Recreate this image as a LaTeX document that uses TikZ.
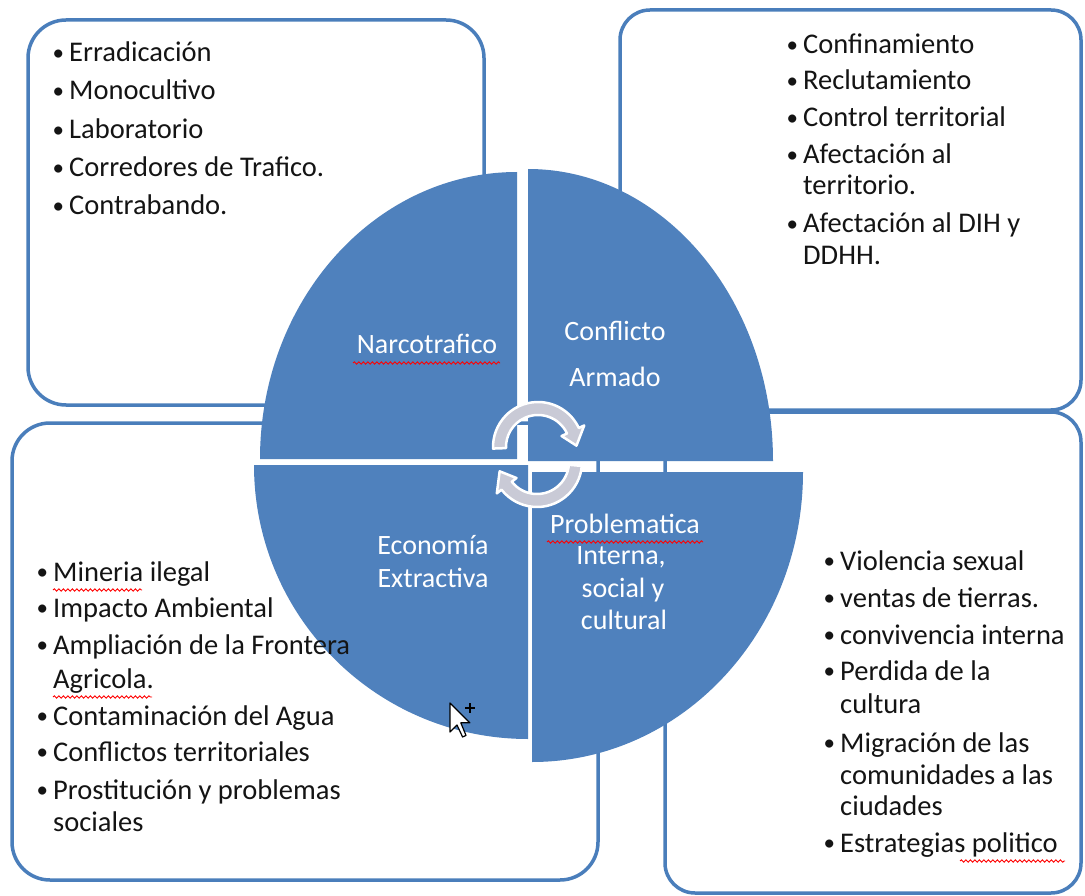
\documentclass[tikz,border=0pt]{standalone}
\usepackage{fontspec}
\setmainfont{Carlito}
\usetikzlibrary{decorations.pathmorphing}
\definecolor{accent}{HTML}{4F81BD}
\definecolor{boxline}{HTML}{4A7EBB}
\definecolor{arrowfill}{HTML}{C9CAD6}
\definecolor{txt}{HTML}{141414}
\newcommand\bul{\makebox[18pt][l]{\hspace{1.5pt}\raisebox{1.2pt}{\fontsize{23}{23}\selectfont\textbullet}}}
\begin{document}
\begin{tikzpicture}[x=1pt,y=-1pt,
  panelbox/.style={draw=boxline, line width=3.5pt, fill=white, rounded corners=38pt},
  panelboxr/.style={draw=boxline, line width=3.5pt, fill=white, rounded corners=30pt},
  sector/.style={fill=accent},
  listline/.style={anchor=base west, inner sep=0pt, font=\fontsize{28.5}{31}\selectfont, text=txt},
  cirtext/.style={anchor=base, inner sep=0pt, font=\fontsize{28}{31}\selectfont, text=white},
  cyc/.style={fill=arrowfill, draw=white, line width=2.5pt, line join=round},
  spell/.style={draw=red, line width=0.9pt, decorate, decoration={snake, amplitude=1.2pt, segment length=4.5pt}}
]
\fill[white] (0,0) rectangle (1085,896);
\useasboundingbox (0,0) rectangle (1085,896);

% panels
\draw[panelbox] (28,20) rectangle (484,405);
\draw[panelboxr] (620,10) rectangle (1081,410);
\draw[panelbox] (12,423) rectangle (598,880);
\draw[panelboxr] (665,412) rectangle (1081,893);

% pie sectors
\fill[sector] (517,459) -- (260,459) arc[start angle=180, end angle=270, x radius=257, y radius=287] -- cycle;
\fill[sector] (528,461) -- (528,169) arc[start angle=270, end angle=360, x radius=245, y radius=292] -- cycle;
\fill[sector] (532,472) -- (803,472) arc[start angle=0, end angle=90, x radius=271, y radius=290] -- cycle;
\fill[sector] (528,465) -- (528,739) arc[start angle=90, end angle=180, x radius=274, y radius=274] -- cycle;

% circular arrows
\filldraw[cyc] ([shift={(538,447)}]178:45) arc[start angle=178, end angle=335, radius=45]
  -- ([shift={(538,447)}]335:51) -- ([shift={(538,447)}]358:38.5) -- ([shift={(538,447)}]335:26)
  -- ([shift={(538,447)}]335:32) arc[start angle=335, end angle=178, radius=32] -- cycle;
\filldraw[cyc] ([shift={(537,462)}]5:45) arc[start angle=5, end angle=142, radius=45]
  -- ([shift={(537,462)}]142:51) -- ([shift={(537,462)}]166:38.5) -- ([shift={(537,462)}]142:26)
  -- ([shift={(537,462)}]142:32) arc[start angle=142, end angle=5, radius=32] -- cycle;

% sector labels
\node[cirtext] (narco) at (427,353) {Narcotrafico};
\node[cirtext] (conf1) at (615,340) {Conflicto};
\node[cirtext] (conf2) at (615,386) {Armado};
\node[cirtext] (eco1) at (433,554) {Economía};
\node[cirtext] (eco2) at (433,587) {Extractiva};
\node[cirtext] (prob1) at (625,533) {Problematica};
\node[cirtext] (prob2) at (621,564) {Interna,};
\node[cirtext] (prob3) at (623,597) {social y};
\node[cirtext] (prob4) at (624,629) {cultural};

% top-left list
\node[listline] (tl1) at (51,62) {\bul Erradicación};
\node[listline] (tl2) at (51,100) {\bul Monocultivo};
\node[listline] (tl3) at (51,139) {\bul Laboratorio};
\node[listline] (tl4) at (51,177) {\bul Corredores de Trafico.};
\node[listline] (tl5) at (51,215) {\bul Contrabando.};

% top-right list
\node[listline] (tr1) at (785,54) {\bul Confinamiento};
\node[listline] (tr2) at (785,90) {\bul Reclutamiento};
\node[listline] (tr3) at (785,127) {\bul Control territorial};
\node[listline] (tr4) at (785,164) {\bul Afectación al};
\node[listline] (tr4b) at (803,195) {territorio.};
\node[listline] (tr5) at (785,233) {\bul Afectación al DIH y};
\node[listline] (tr5b) at (803,265) {DDHH.};

% bottom-left list
\node[listline] (bl1) at (35,581) {\bul Mineria ilegal};
\node[listline] (bl2) at (35,617) {\bul Impacto Ambiental};
\node[listline] (bl3) at (35,654) {\bul Ampliación de la Frontera};
\node[listline] (bl3b) at (53,688) {Agricola.};
\node[listline] (bl4) at (35,725) {\bul Contaminación del Agua};
\node[listline] (bl5) at (35,761) {\bul Conflictos territoriales};
\node[listline] (bl6) at (35,799) {\bul Prostitución y problemas};
\node[listline] (bl6b) at (53,831) {sociales};

% bottom-right list
\node[listline] (br1) at (822,570) {\bul Violencia sexual};
\node[listline] (br2) at (822,607) {\bul ventas de tierras.};
\node[listline] (br3) at (822,644) {\bul convivencia interna};
\node[listline] (br4) at (822,680) {\bul Perdida de la};
\node[listline] (br4b) at (840,713) {cultura};
\node[listline] (br5) at (822,752) {\bul Migración de las};
\node[listline] (br5b) at (840,784) {comunidades a las};
\node[listline] (br5c) at (840,815) {ciudades};
\node[listline] (br6) at (822,852) {\bul Estrategias politico};

% spell-check underlines
\draw[spell] (353,363) -- (500,363);
\draw[spell] (547,542) -- (703,542);
\draw[spell] (53,590) -- (142,590);
\draw[spell] (53,697) -- (152,697);
\draw[spell] (960,861) -- (1065,861);

% mouse cursor
\filldraw[fill=white, draw=black, line width=1.2pt, line join=round]
  (450,703) -- (450,732) -- (457,725) -- (462.6,737) -- (466,735.4) -- (460.8,722.8) -- (469.8,722.8) -- cycle;
\draw[black, line width=1.3pt] (465,708) -- (475,708) (470,703) -- (470,713);
\end{tikzpicture}
\end{document}
